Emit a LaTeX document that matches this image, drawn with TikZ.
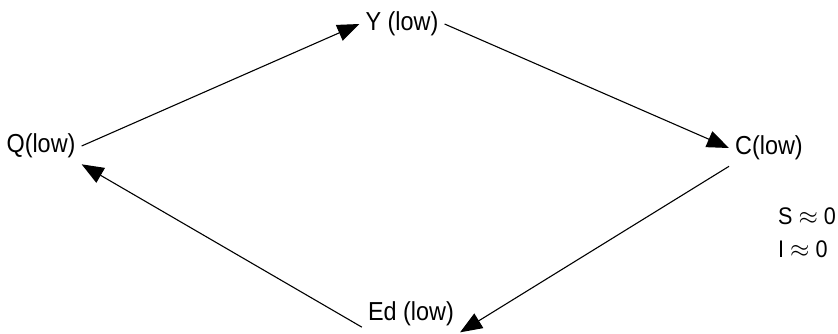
\documentclass[tikz,border=0pt]{standalone}
\usepackage{fontspec}
\setmainfont{Liberation Sans}[FakeStretch=0.9]
\usetikzlibrary{arrows.meta}

\begin{document}
\begin{tikzpicture}[
    x=1pt, y=-1pt,
    state/.style={inner sep=6pt, font=\fontsize{26}{30}\selectfont},
    note/.style={inner sep=0pt, anchor=west, font=\fontsize{24}{28}\selectfont},
    arrow/.style={-{Triangle[length=22pt, width=17pt]}, line width=1.1pt, black}
]
\useasboundingbox (0,0) rectangle (838,333);

% === Cycle states ===
\node[state] (y)  at (402,24)  {Y (low)};
\node[state] (c)  at (769,148) {C(low)};
\node[state] (ed) at (411,314) {Ed (low)};
\node[state] (q)  at (41,146)  {Q(low)};

% === Side notes ===
\node[note] (s) at (778,216) {S $\approx$ 0};
\node[note] (i) at (778,249) {I $\approx$ 0};

% === Cycle arrows ===
\draw[arrow] (q.east) -- (y.west);
\draw[arrow] (y.east) -- (c.west);
\draw[arrow] (c.south west) -- (ed.south east);
\draw[arrow] (ed.195) -- (q.south east);

\end{tikzpicture}
\end{document}
